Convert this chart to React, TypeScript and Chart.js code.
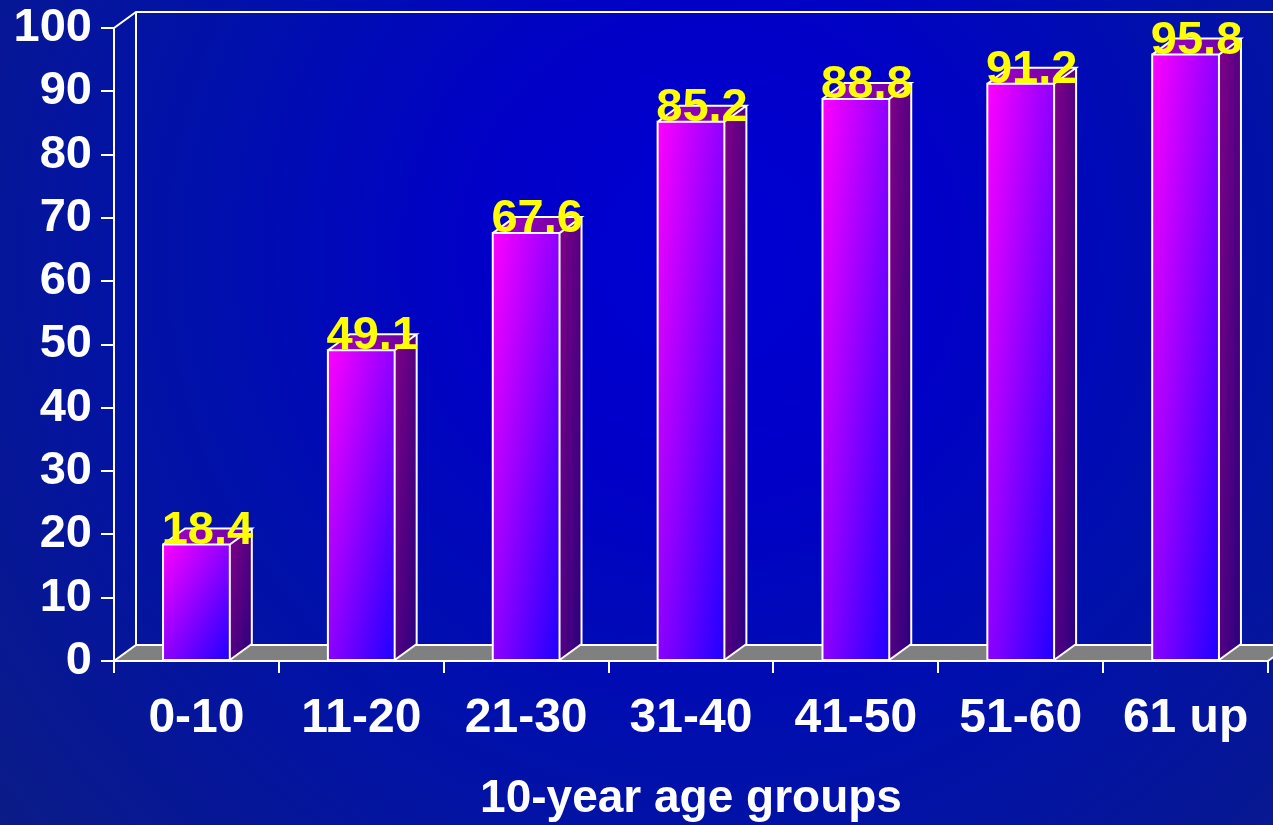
import React, { useEffect, useRef } from 'react';
import { Chart, registerables } from 'chart.js';

Chart.register(...registerables);

// Data
const ageGroups: string[] = ['0-10', '11-20', '21-30', '31-40', '41-50', '51-60', '61 up'];
const percentages: number[] = [18.4, 49.1, 67.6, 85.2, 88.8, 91.2, 95.8];
const yMin = 0;
const yMax = 100;
const yStep = 10;
const xAxisTitle = '10-year age groups';

// Styling
const FONT = '"Liberation Sans", Arial, Helvetica, sans-serif';
const DEPTH_X = 22;
const DEPTH_Y = -16;
const WIDTH = 1273;
const HEIGHT = 825;

// Linear gradient that runs corner to corner of a box in its own proportions
function boxDiagonalGradient(ctx: CanvasRenderingContext2D, x: number, y: number, w: number, h: number, c0: string, c1: string) {
  const k = 2 / (1 / (w * w) + 1 / (h * h));
  const g = ctx.createLinearGradient(x, y, x + k / w, y + k / h);
  g.addColorStop(0, c0);
  g.addColorStop(1, c1);
  return g;
}

const scene3d = {
  id: 'scene3d',
  beforeDraw(chart: any) {
    const { ctx, chartArea } = chart;
    const { left, right, top, bottom } = chartArea;
    ctx.save();
    // backdrop
    const bg = ctx.createRadialGradient(710, 255, 0, 710, 255, 920);
    bg.addColorStop(0, '#0000d4');
    bg.addColorStop(0.25, '#0000c8');
    bg.addColorStop(0.55, '#0010ac');
    bg.addColorStop(1, '#0b1c86');
    ctx.fillStyle = bg;
    ctx.fillRect(0, 0, WIDTH, HEIGHT);

    // back wall edges and the upper left corner joint
    ctx.strokeStyle = '#ffffff';
    ctx.lineWidth = 2;
    ctx.beginPath();
    ctx.moveTo(left, top);
    ctx.lineTo(left + DEPTH_X, top + DEPTH_Y);
    ctx.lineTo(right + DEPTH_X, top + DEPTH_Y);
    ctx.moveTo(left + DEPTH_X, top + DEPTH_Y);
    ctx.lineTo(left + DEPTH_X, bottom + DEPTH_Y);
    ctx.stroke();
    ctx.restore();
  },
  beforeDatasetsDraw(chart: any) {
    const { ctx, chartArea } = chart;
    const { left, right, bottom } = chartArea;
    ctx.save();
    ctx.lineJoin = 'miter';
    // floor
    ctx.beginPath();
    ctx.moveTo(left, bottom);
    ctx.lineTo(right, bottom);
    ctx.lineTo(right + DEPTH_X, bottom + DEPTH_Y);
    ctx.lineTo(left + DEPTH_X, bottom + DEPTH_Y);
    ctx.closePath();
    ctx.fillStyle = '#808080';
    ctx.fill();
    ctx.strokeStyle = '#ffffff';
    ctx.lineWidth = 2;
    ctx.stroke();

    // bars
    const meta = chart.getDatasetMeta(0);
    meta.data.forEach((bar: any) => {
      const { x, y, base, width } = bar.getProps(['x', 'y', 'base', 'width'], true);
      const x0 = x - width / 2;
      const x1 = x + width / 2;
      const h = base - y;

      // front face
      ctx.fillStyle = boxDiagonalGradient(ctx, x0, y, width, h, '#ff00ff', '#1e00ff');
      ctx.fillRect(x0, y, width, h);

      // side face
      ctx.beginPath();
      ctx.moveTo(x1, y);
      ctx.lineTo(x1 + DEPTH_X, y + DEPTH_Y);
      ctx.lineTo(x1 + DEPTH_X, base + DEPTH_Y);
      ctx.lineTo(x1, base);
      ctx.closePath();
      ctx.fillStyle = boxDiagonalGradient(ctx, x1, y + DEPTH_Y, DEPTH_X, h - DEPTH_Y, '#820088', '#28007e');
      ctx.fill();

      // top face
      ctx.beginPath();
      ctx.moveTo(x0, y);
      ctx.lineTo(x1, y);
      ctx.lineTo(x1 + DEPTH_X, y + DEPTH_Y);
      ctx.lineTo(x0 + DEPTH_X, y + DEPTH_Y);
      ctx.closePath();
      const tg = ctx.createLinearGradient(x0, y, x1 + DEPTH_X, y);
      tg.addColorStop(0, '#a600cc');
      tg.addColorStop(1, '#66009a');
      ctx.fillStyle = tg;
      ctx.fill();

      // outlines
      ctx.strokeStyle = '#ffffff';
      ctx.lineWidth = 2;
      ctx.beginPath();
      ctx.rect(x0, y, width, h);
      ctx.moveTo(x0, y);
      ctx.lineTo(x0 + DEPTH_X, y + DEPTH_Y);
      ctx.lineTo(x1 + DEPTH_X, y + DEPTH_Y);
      ctx.lineTo(x1, y);
      ctx.moveTo(x1 + DEPTH_X, y + DEPTH_Y);
      ctx.lineTo(x1 + DEPTH_X, base + DEPTH_Y);
      ctx.lineTo(x1, base);
      ctx.stroke();
    });
    ctx.restore();
  },
  afterDatasetsDraw(chart: any) {
    const { ctx } = chart;
    const meta = chart.getDatasetMeta(0);
    ctx.save();
    ctx.font = `bold 47px ${FONT}`;
    ctx.fillStyle = '#ffff00';
    ctx.textAlign = 'center';
    ctx.textBaseline = 'alphabetic';
    meta.data.forEach((bar: any, i: number) => {
      const { x, y } = bar.getProps(['x', 'y'], true);
      ctx.fillText(String(percentages[i]), x + DEPTH_X / 2, y - 1);
    });
    ctx.restore();
  },
};

export default function App() {
  const canvasRef = useRef<HTMLCanvasElement | null>(null);

  useEffect(() => {
    const canvas = canvasRef.current;
    if (!canvas) return;
    Chart.defaults.font.family = FONT;

    const chart = new Chart(canvas, {
      type: 'bar',
      data: {
        labels: ageGroups,
        datasets: [
          {
            data: percentages,
            backgroundColor: 'rgba(0,0,0,0)',
            borderWidth: 0,
            barPercentage: 0.405,
            categoryPercentage: 1,
          },
        ],
      },
      options: {
        responsive: false,
        animation: false,
        devicePixelRatio: 1,
        layout: { padding: { top: 28, right: 5, left: 0, bottom: 0 } },
        plugins: {
          legend: { display: false },
          tooltip: { enabled: false },
        },
        scales: {
          x: {
            type: 'category',
            offset: true,
            grid: {
              offset: true,
              drawOnChartArea: false,
              drawTicks: true,
              tickLength: 12,
              color: '#ffffff',
              lineWidth: 2,
            },
            border: { display: true, color: '#ffffff', width: 2 },
            ticks: {
              color: '#ffffff',
              font: { size: 48, weight: 'bold', family: FONT },
              padding: 17,
              maxRotation: 0,
              autoSkip: false,
            },
            title: {
              display: true,
              text: xAxisTitle,
              color: '#ffffff',
              font: { size: 46, weight: 'bold', family: FONT },
              padding: { top: 0, bottom: -2 },
            },
            afterFit: (scale: any) => {
              scale.height = 164;
              scale.paddingLeft = 0;
              scale.paddingRight = 0;
            },
          },
          y: {
            min: yMin,
            max: yMax,
            ticks: {
              stepSize: yStep,
              color: '#ffffff',
              font: { size: 47, weight: 'bold', family: FONT },
              padding: 9,
            },
            grid: {
              drawOnChartArea: false,
              drawTicks: true,
              tickLength: 13,
              color: '#ffffff',
              lineWidth: 2,
            },
            border: { display: true, color: '#ffffff', width: 2 },
            afterFit: (scale: any) => {
              scale.width = 114;
              scale.paddingTop = 0;
              scale.paddingBottom = 0;
            },
          },
        },
      },
      plugins: [scene3d],
    });

    return () => {
      chart.destroy();
    };
  }, []);

  return (
    <div style={{ position: 'fixed', left: 0, top: 0, width: WIDTH, height: HEIGHT, overflow: 'hidden' }}>
      <canvas ref={canvasRef} width={WIDTH} height={HEIGHT} style={{ display: 'block' }} />
    </div>
  );
}
